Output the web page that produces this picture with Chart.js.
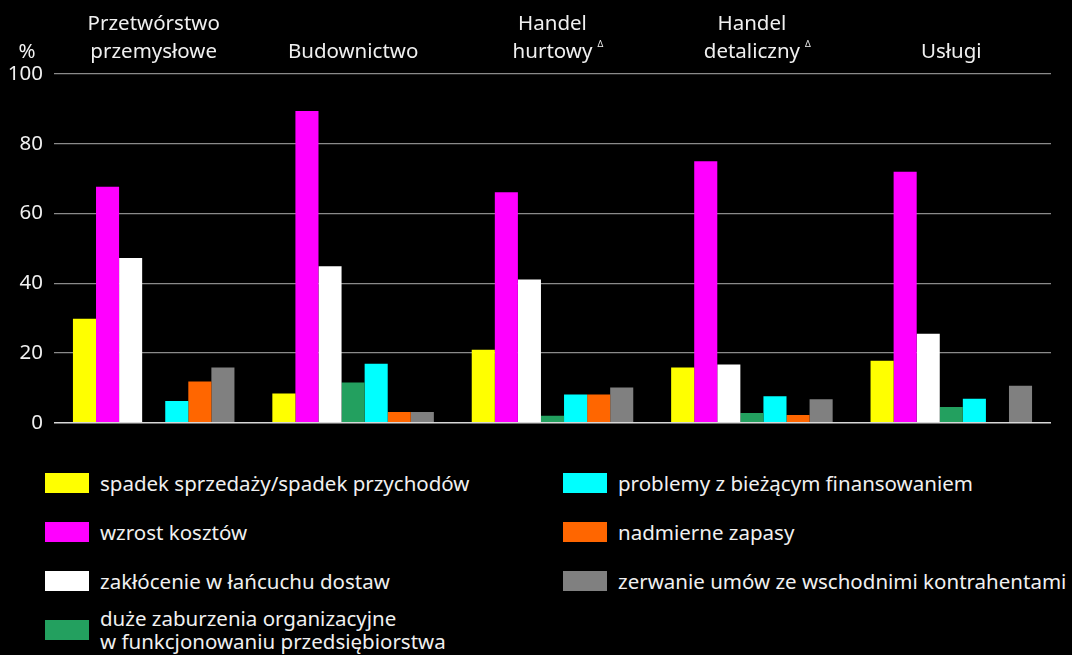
<!DOCTYPE html>
<html>
<head>
<meta charset="utf-8">
<script src="https://cdn.jsdelivr.net/npm/chart.js@4/dist/chart.umd.min.js"></script>
<style>
  html, body { margin: 0; padding: 0; background: #000; }
  body { width: 1072px; height: 655px; position: relative; overflow: hidden; font-family: "Noto Sans", sans-serif; }
  #wrap { position: absolute; left: 0; top: 0; width: 1072px; height: 446px; }
  #legend { position: absolute; left: 0; top: 460px; width: 1072px; height: 195px; color: #f0f0f0; font-size: 20.5px; }
  .item { position: absolute; display: flex; align-items: center; }
  .box { width: 44px; height: 20px; margin-right: 11px; flex: none; }
  .txt { line-height: 23px; white-space: nowrap; }
</style>
</head>
<body>
<div id="wrap"><canvas id="c"></canvas></div>
<div id="legend"></div>
<script>
const categories = [
  ["Przetwórstwo", "przemysłowe"],
  "Budownictwo",
  ["Handel", "hurtowy"],
  ["Handel", "detaliczny"],
  "Usługi"
];
const markedCategories = [false, false, true, true, false];

const seriesLabels = [
  "spadek sprzedaży/spadek przychodów",
  "wzrost kosztów",
  "zakłócenie w łańcuchu dostaw",
  "duże zaburzenia organizacyjne\nw funkcjonowaniu przedsiębiorstwa",
  "problemy z bieżącym finansowaniem",
  "nadmierne zapasy",
  "zerwanie umów ze wschodnimi kontrahentami"
];
const seriesColors = ["#ffff00", "#ff00ff", "#ffffff", "#23a05f", "#00ffff", "#ff6600", "#808080"];

const salesDrop      = [29.8, 8.4, 20.9, 15.8, 17.8];
const costIncrease   = [67.7, 89.4, 66.1, 75.0, 72.0];
const supplyChain    = [47.2, 44.9, 41.1, 16.7, 25.5];
const orgDisruption  = [0, 11.5, 2.0, 2.8, 4.5];
const financing      = [6.2, 16.9, 8.1, 7.6, 6.9];
const excessStock    = [11.8, 3.1, 8.1, 2.2, 0];
const contractBreaks = [15.8, 3.1, 10.1, 6.7, 10.6];

const yTicks = [0, 20, 40, 60, 80, 100];

const seriesValues = [salesDrop, costIncrease, supplyChain, orgDisruption, financing, excessStock, contractBreaks];

const FONT = "'Noto Sans', sans-serif";
const FS = 20.5;
const LH = 28 / 20.5;
const TXT = "#f0f0f0";
const XPAD = 8;

const deltaPlugin = {
  id: 'extras',
  afterDraw(chart) {
    const ctx = chart.ctx;
    const x = chart.scales.x;
    const y = chart.scales.y;
    const lh = FS * LH;
    ctx.save();
    ctx.fillStyle = TXT;
    ctx.textBaseline = 'middle';
    const lastLineY = x.bottom - XPAD - lh / 2;
    categories.forEach((cat, i) => {
      if (!markedCategories[i]) return;
      const last = Array.isArray(cat) ? cat[cat.length - 1] : cat;
      ctx.font = FS + "px " + FONT;
      const w = ctx.measureText(last).width;
      const cx = x.getPixelForTick(i);
      ctx.font = "9px " + FONT;
      ctx.textAlign = 'left';
      ctx.fillText("\u0394", cx + w / 2 + 5, lastLineY - 8);
    });
    ctx.font = FS + "px " + FONT;
    ctx.textAlign = 'center';
    ctx.fillText("%", y.right - 27, lastLineY);
    ctx.restore();
  }
};

new Chart(document.getElementById('c'), {
  type: 'bar',
  data: {
    labels: categories,
    datasets: seriesLabels.map((lab, i) => ({
      label: lab,
      data: seriesValues[i],
      backgroundColor: seriesColors[i],
      borderWidth: 0,
      categoryPercentage: 0.81,
      barPercentage: 1.0
    }))
  },
  options: {
    responsive: true,
    maintainAspectRatio: false,
    animation: false,
    layout: { padding: { top: 8, right: 21, bottom: 15, left: 0 } },
    plugins: { legend: { display: false }, tooltip: { enabled: false } },
    scales: {
      x: {
        position: 'top',
        afterFit(s) { s.height = 66; },
        grid: { display: false, drawTicks: false },
        border: { display: false },
        ticks: { color: TXT, font: { family: FONT, size: FS, lineHeight: LH }, padding: XPAD, maxRotation: 0, autoSkip: false }
      },
      y: {
        min: 0, max: 100,
        afterBuildTicks(s) { s.ticks = yTicks.map(v => ({ value: v })); },
        afterFit(s) { s.width = 54; },
        grid: {
          drawTicks: false,
          color: c => c.tick && c.tick.value === 0 ? '#d8d8d8' : '#8a8a8a',
          lineWidth: c => c.tick && c.tick.value === 0 ? 1.5 : 1.2
        },
        border: { display: false },
        ticks: { color: TXT, font: { family: FONT, size: FS }, padding: 11 }
      }
    }
  },
  plugins: [deltaPlugin]
});

// HTML legend, laid out in two columns like the reference
const legend = document.getElementById('legend');
const leftCol = [0, 1, 2, 3];
const rightCol = [4, 5, 6];
const rowTops = [23, 72, 121, 170];
function addItem(idx, left, rowCenter) {
  const d = document.createElement('div');
  d.className = 'item';
  d.style.left = left + 'px';
  const b = document.createElement('div');
  b.className = 'box';
  b.style.background = seriesColors[idx];
  const t = document.createElement('div');
  t.className = 'txt';
  t.innerHTML = seriesLabels[idx].split('\n').join('<br>');
  d.appendChild(b); d.appendChild(t);
  legend.appendChild(d);
  const h = d.getBoundingClientRect().height;
  d.style.top = (rowCenter - h / 2) + 'px';
}
leftCol.forEach((s, r) => addItem(s, 45, rowTops[r]));
rightCol.forEach((s, r) => addItem(s, 563, rowTops[r]));
</script>
</body>
</html>
